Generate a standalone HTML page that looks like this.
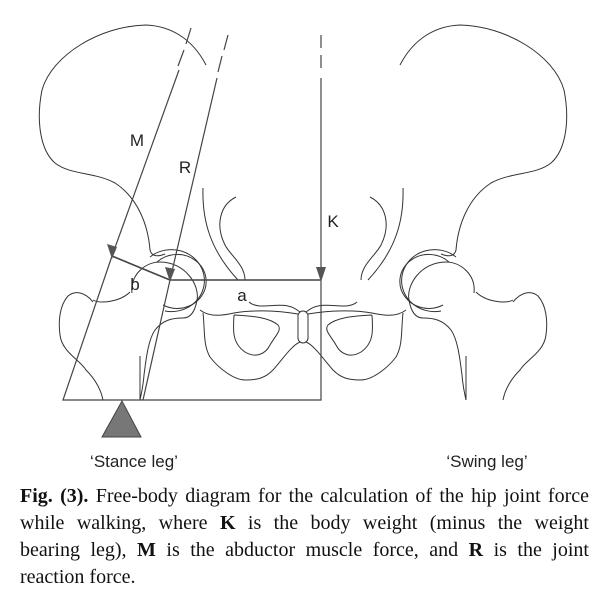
<!DOCTYPE html>
<html><head><meta charset="utf-8"><style>
body{margin:0;background:#fff;width:603px;height:592px;overflow:hidden;position:relative}
svg{position:absolute;left:0;top:0}
.cap{position:absolute;left:20px;top:483px;width:569px;font-family:"Liberation Serif",serif;font-size:20px;line-height:27px;color:#111}
.cap div{text-align:justify;text-align-last:justify;white-space:nowrap}
.cap div.l{text-align-last:left}
</style></head><body>
<svg width="603" height="480" viewBox="0 0 603 480">
<defs>
<g id="half" fill="none" stroke="#333" stroke-width="1">
<path d="M206,65 C192,38 170,26 146,25 C100,26 52,55 42,90 C36,120 40,150 55,163 C70,175 95,172 115,183 C138,198 148,225 150,250 C152,258 160,256 165,254"/>
<path d="M150,257 A33,31 0 1,1 165,311"/>
<path d="M157,262 A29,27 0 1,1 163,305"/>
<path d="M132,293 C130,275 145,262 160,262 C185,262 200,285 197,300 C195,312 190,318 183,318 C172,318 163,320 155,330 C148,340 146,360 144,375 C143,388 141,395 140,400"/>
<path d="M93,302 C85,292 75,290 68,296 C60,305 58,320 60,335 C62,352 80,360 86,370 C96,380 101,390 103,400"/>
<path d="M93,300 C100,304 120,302 130,292"/>
<path d="M140,356 L140,400"/>
<path d="M203,188 C202,220 210,250 238,280"/>
<path d="M236,197 C220,205 215,225 225,245 C230,255 245,265 245,280"/>
<path d="M249,302 C258,310 275,303 288,306 C294,307 297,310 300,312"/>
<path d="M200,310 C210,318 225,315 234,313 C250,310 275,310 298,314"/>
<path d="M234,315 C233,330 232,343 245,352 C255,358 265,355 270,345 C276,335 282,330 278,325 C270,318 255,316 234,315"/>
<path d="M203,313 C205,330 203,345 210,357 C220,370 235,380 245,380 C258,380 265,378 273,370 C282,360 292,345 300,342"/>
</g>
</defs>
<use href="#half"/>
<use href="#half" transform="translate(606,0) scale(-1,1)"/>
<rect x="298" y="311" width="10" height="32" rx="5" fill="#fff" stroke="#333"/>
<g stroke="#444" stroke-width="1.2" fill="none">
<path d="M191,28 L186,44 M184,50 L178,66" />
<path d="M179,70 L112,256 L63,400 L321,400 L321,78"/>
<path d="M228,35 L224,50 M222,56 L218,72"/>
<path d="M217,78 L170,280 L143,400"/>
<path d="M321,35 L321,48 M321,55 L321,68"/>
<path d="M170,280 L321,280" stroke-width="1.6"/>
<path d="M112,256 L170,280" stroke-width="1.6"/>
</g>
<g fill="#555">
<polygon points="112,259 107,244 117,247"/>
<polygon points="170,282 165,267 175,269"/>
<polygon points="321,282 316,267 326,267"/>
</g>
<polygon points="122,401 102,437 141,437" fill="#777" stroke="#444"/>
<g font-family="Liberation Sans,sans-serif" font-size="17" fill="#222" text-anchor="middle">
<text x="137" y="146">M</text><text x="185" y="173">R</text><text x="333" y="227">K</text>
<text x="135" y="290">b</text><text x="242" y="301">a</text>
<text x="134" y="467">‘Stance leg’</text><text x="487" y="467">‘Swing leg’</text>
</g>
</svg>
<div class="cap">
<div><b>Fig. (3).</b> Free-body diagram for the calculation of the hip joint force</div>
<div>while walking, where <b>K</b> is the body weight (minus the weight</div>
<div>bearing leg), <b>M</b> is the abductor muscle force, and <b>R</b> is the joint</div>
<div class="l">reaction force.</div>
</div>
</body></html>
